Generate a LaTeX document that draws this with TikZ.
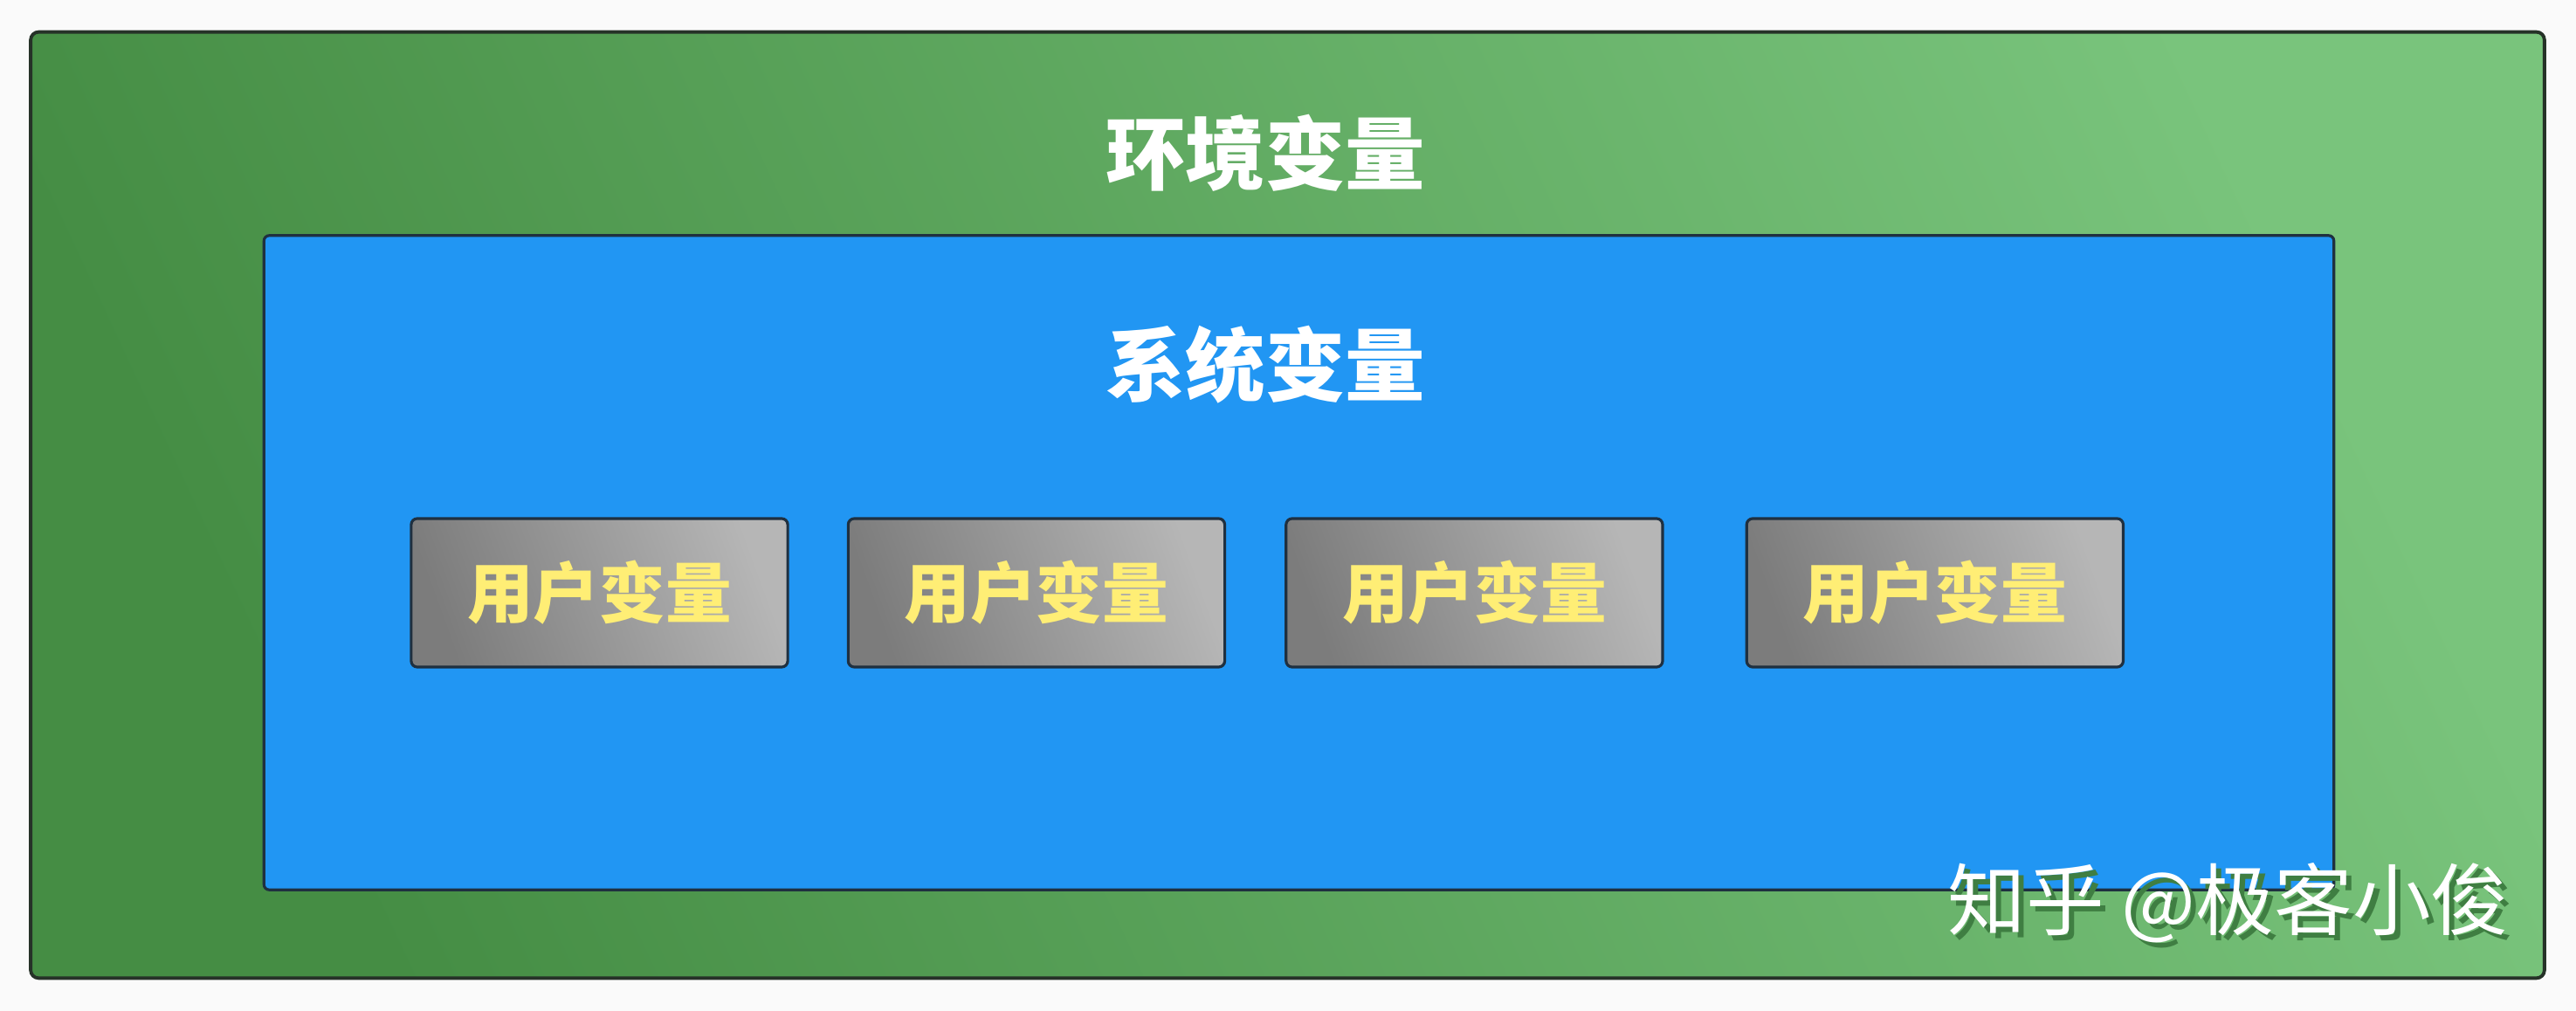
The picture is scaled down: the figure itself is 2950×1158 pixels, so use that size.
\documentclass[tikz,border=0pt]{standalone}
\usepackage{xcolor}
\usepackage{fontspec}
\usepackage{tikz}
\usetikzlibrary{positioning}
\newfontfamily\cjk{Noto Sans CJK SC}

\definecolor{pagebg}{HTML}{FAFAFA}
\definecolor{envdark}{HTML}{458D44}
\definecolor{envlight}{HTML}{79C47C}
\definecolor{sysblue}{HTML}{2196F3}
\definecolor{userdark}{HTML}{7C7C7C}
\definecolor{userlight}{HTML}{B6B6B6}
\definecolor{usertext}{HTML}{FFEE75}
\definecolor{edgegreen}{HTML}{263228}
\definecolor{edgeblue}{HTML}{1F3040}
\definecolor{markshade}{HTML}{3F7E42}

\tikzset{
	envbox/.style={draw=edgegreen, line width=1.1pt, rounded corners=0.09cm, inner sep=0pt,
		minimum width=28.77cm, minimum height=10.83cm,
		left color=envdark, right color=envlight, shading angle=115},
	sysbox/.style={draw=edgeblue, line width=0.9pt, rounded corners=0.06cm, inner sep=0pt,
		fill=sysblue, minimum width=23.69cm, minimum height=7.49cm},
	userbox/.style={draw=edgeblue, line width=0.9pt, rounded corners=0.07cm, inner sep=0pt,
		left color=userdark, right color=userlight, shading angle=110,
		minimum width=4.31cm, minimum height=1.70cm,
		text=usertext, font=\cjk\bfseries\fontsize{21.5}{21.5}\selectfont},
	titletext/.style={text=white, inner sep=0pt, font=\cjk\bfseries\fontsize{26}{26}\selectfont},
	marktext/.style={inner sep=0pt, font=\cjk\fontsize{25.5}{25.5}\selectfont},
}

\begin{document}
\begin{tikzpicture}[x=0.01cm, y=-0.01cm]
	\fill[pagebg] (0,0) rectangle (2950,1158);
	\useasboundingbox (0,0) rectangle (2950,1158);
	% outer and inner frames
	\node[envbox] (env) at (1474.5,578.5) {};
	\node[sysbox] (sys) at (1487.5,644.5) {};
	\node[titletext] (envlabel) at (1449,175) {环境变量};
	\node[titletext] (syslabel) at (1449,418) {系统变量};
	% user variables
	\node[userbox] (user1) at (686.5,679) {用户变量};
	\node[userbox, right=0.66cm of user1] (user2) {用户变量};
	\node[userbox, right=0.67cm of user2] (user3) {用户变量};
	\node[userbox, right=0.93cm of user3] (user4) {用户变量};
	% watermark
	\node[marktext, text=markshade] (markshadow) at (2558,1040) {知乎 @极客小俊};
	\node[marktext, text=white] (mark) at (2552,1034) {知乎 @极客小俊};
\end{tikzpicture}
\end{document}
